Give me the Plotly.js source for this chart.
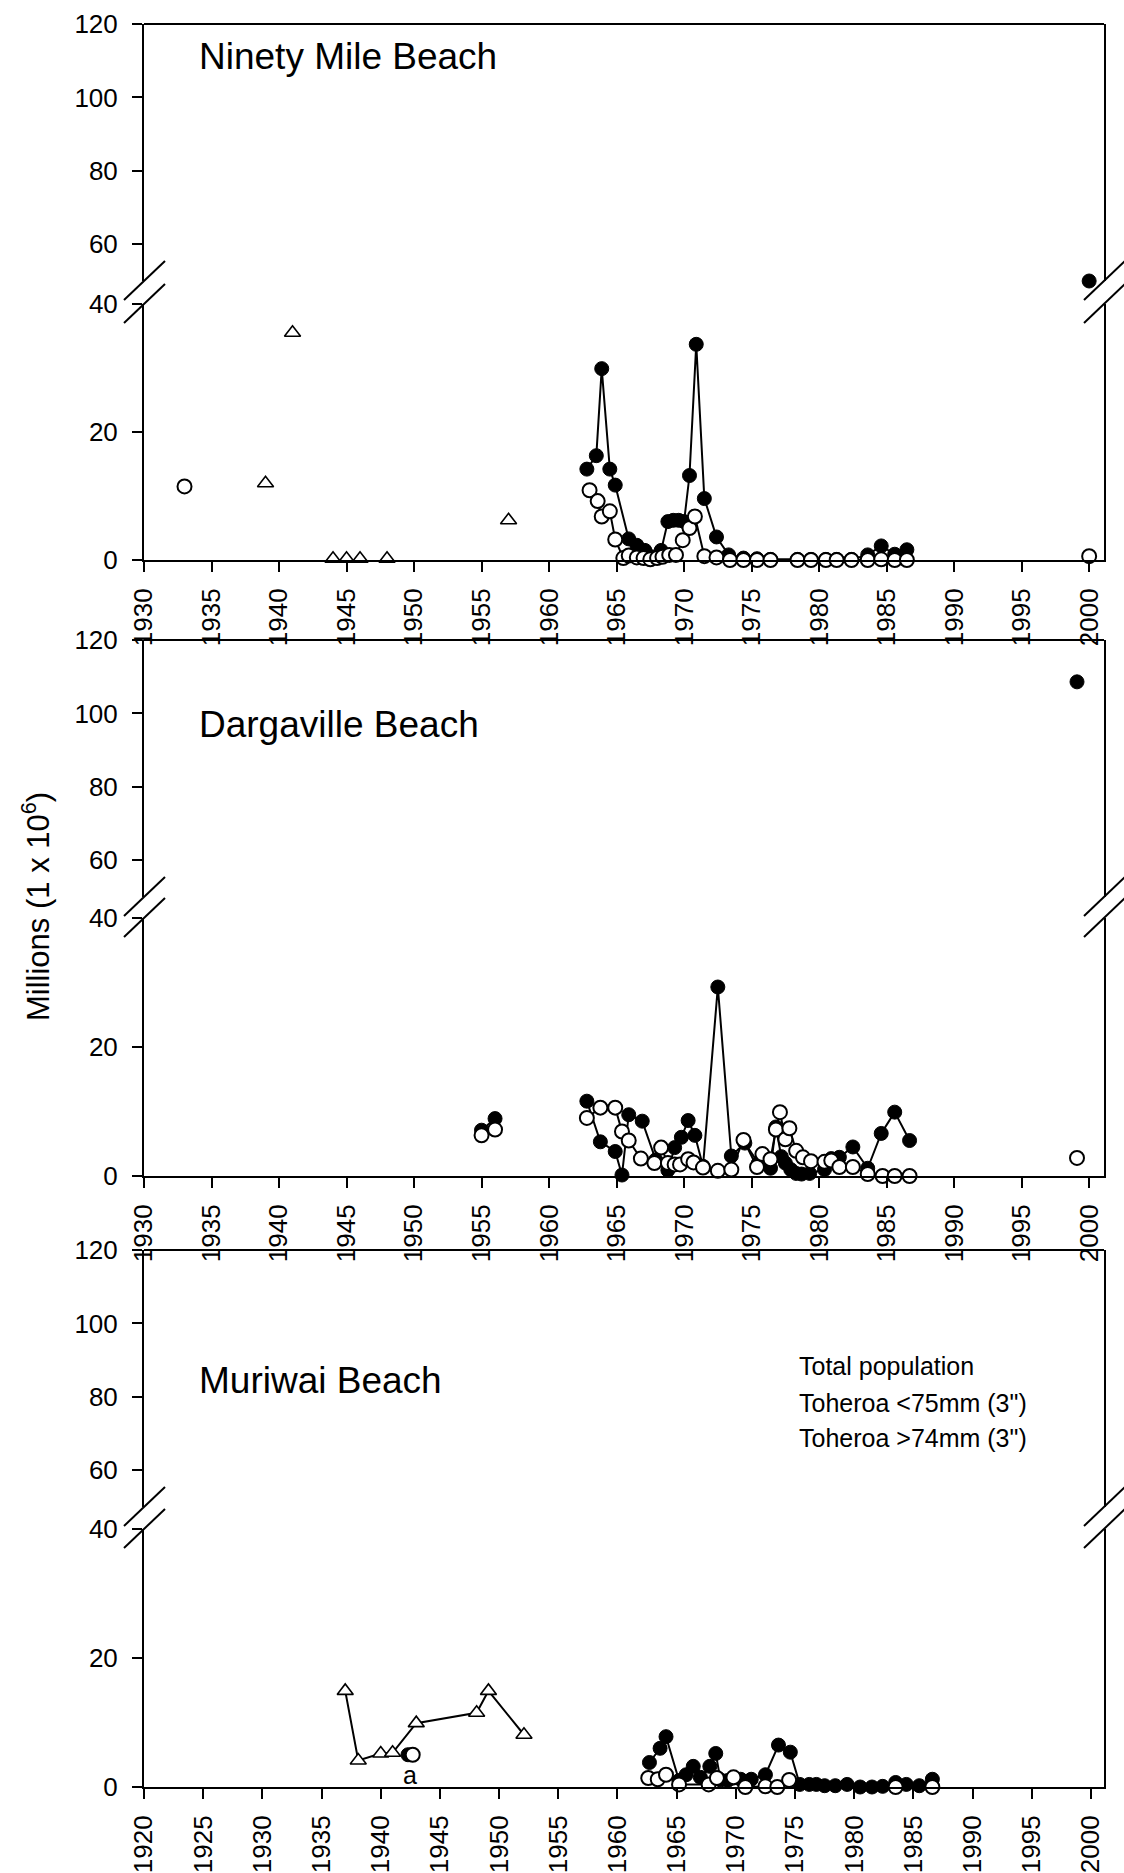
<!DOCTYPE html>
<html>
<head>
<meta charset="utf-8">
<script src="https://cdn.plot.ly/plotly-3.0.1.min.js"></script>
<style>
  html, body { margin: 0; padding: 0; background: #fff; }
  #chart { width: 1124px; height: 1873px; }
</style>
</head>
<body>
<div id="chart"></div>
<script>
// ---------------- DATA (millions of toheroa) ----------------
// Ninety Mile Beach
const ninetyTotalYears = [1939, 1941, 1944, 1945, 1946, 1948, 1957];
const ninetyTotalVals  = [12, 35.5, 0.2, 0.2, 0.2, 0.2, 6.2];
const ninetySmallYears = [1962.8, 1963.5, 1963.9, 1964.5, 1964.9, 1965.9, 1966.5, 1967.1, 1967.6, 1968.3, 1968.8, 1969.2, 1969.6, 1970.0, 1970.4, 1970.9, 1971.5, 1972.4, 1973.3, 1974.4, 1975.4, 1976.4, 1978.4, 1979.4, 1980.5, 1981.3, 1982.4, 1983.6, 1984.6, 1985.6, 1986.5, null, 2000];
const ninetySmallVals  = [14.2, 16.3, 29.9, 14.2, 11.7, 3.3, 2.3, 1.5, 0.5, 1.5, 6.0, 6.2, 6.2, 6.0, 13.2, 33.7, 9.6, 3.6, 0.8, 0.3, 0.2, 0.1, 0.1, 0.1, 0.1, 0.1, 0.1, 0.8, 2.2, 0.9, 1.6, null, 50];
const ninetyLargeYears = [1933.0, null, 1963.0, 1963.6, 1963.9, 1964.5, 1964.9, 1965.5, 1965.9, 1966.5, 1967.0, 1967.5, 1968.0, 1968.4, 1968.9, 1969.4, 1969.9, 1970.4, 1970.8, 1971.5, 1972.4, 1973.4, 1974.4, 1975.4, 1976.4, 1978.4, 1979.4, 1980.5, 1981.3, 1982.4, 1983.6, 1984.6, 1985.6, 1986.5, null, 2000];
const ninetyLargeVals  = [11.5, null, 10.9, 9.2, 6.8, 7.6, 3.2, 0.3, 0.7, 0.4, 0.3, 0.1, 0.3, 0.5, 0.8, 0.8, 3.1, 5.0, 6.8, 0.6, 0.4, 0, 0, 0, 0, 0, 0, 0, 0, 0, 0, 0.1, 0, 0, null, 0.6];

// Dargaville Beach
const dargSmallYears = [1955.0, 1956.0, null, 1962.8, 1963.8, 1964.9, 1965.4, 1965.9, 1966.9, 1967.9, 1968.8, 1969.3, 1969.8, 1970.3, 1970.8, 1971.4, 1972.5, 1973.5, 1974.5, 1975.5, 1976.4, 1976.8, 1977.2, 1977.5, 1977.9, 1978.3, 1978.7, 1979.3, 1980.4, 1980.9, 1981.5, 1982.5, 1983.6, 1984.6, 1985.6, 1986.7, null, 1999.1];
const dargSmallVals  = [7.1, 8.9, null, 11.6, 5.3, 3.8, 0.15, 9.5, 8.5, 2.5, 0.9, 4.4, 6.0, 8.6, 6.3, 1.5, 29.3, 3.1, 5.1, 2.0, 1.2, 7.6, 3.0, 2.0, 1.0, 0.4, 0.3, 0.4, 1.0, 2.7, 2.9, 4.5, 1.2, 6.6, 9.9, 5.5, null, 108.6];
const dargLargeYears = [1955.0, 1956.0, null, 1962.8, 1963.8, 1964.9, 1965.4, 1965.9, 1966.8, 1967.8, 1968.3, 1968.8, 1969.3, 1969.7, 1970.3, 1970.7, 1971.4, 1972.5, 1973.5, 1974.4, 1975.4, 1975.8, 1976.4, 1976.8, 1977.1, 1977.5, 1977.8, 1978.3, 1978.8, 1979.4, 1980.4, 1980.9, 1981.5, 1982.5, 1983.6, 1984.7, 1985.6, 1986.7, null, 1999.1];
const dargLargeVals  = [6.3, 7.2, null, 9.0, 10.6, 10.6, 6.9, 5.5, 2.7, 2.0, 4.4, 2.0, 1.8, 1.8, 2.6, 2.1, 1.3, 0.8, 1.0, 5.6, 1.4, 3.4, 2.6, 7.2, 9.9, 5.7, 7.4, 3.9, 2.9, 2.3, 2.2, 2.4, 1.4, 1.4, 0.3, 0, 0, 0, null, 2.8];

// Muriwai Beach
const muriTotalYears = [1937.0, 1938.1, 1940.0, 1941.0, 1943.0, 1948.1, 1949.1, 1952.1];
const muriTotalVals  = [14.9, 4.1, 5.2, 5.3, 9.9, 11.5, 14.9, 8.1];
const muriSmallYears = [1942.3, null, 1962.7, 1963.6, 1964.1, 1965.2, 1965.8, 1966.4, 1967.0, 1967.8, 1968.3, 1968.7, 1969.3, 1969.8, 1970.4, 1970.9, 1971.3, 1972.5, 1973.6, 1974.6, 1975.4, 1976.2, 1976.8, 1977.5, 1978.4, 1979.4, 1980.5, 1981.5, 1982.4, 1983.5, 1984.4, 1985.5, 1986.6];
const muriSmallVals  = [5.0, null, 3.8, 6.0, 7.8, 1.0, 1.9, 3.2, 1.5, 3.2, 5.2, 1.1, 1.0, 1.4, 1.2, 0.8, 1.2, 1.9, 6.5, 5.4, 0.4, 0.4, 0.4, 0.2, 0.2, 0.4, 0, 0, 0.1, 0.7, 0.4, 0.2, 1.2];
const muriLargeYears = [1942.7, null, 1962.6, 1963.4, 1964.1, 1965.2, 1967.7, 1968.4, 1969.8, 1970.8, 1972.5, 1973.5, 1974.5, 1983.5, 1986.6];
const muriLargeVals  = [5.0, null, 1.4, 1.2, 1.9, 0.4, 0.4, 1.4, 1.5, 0, 0.1, 0, 1.1, 0, 0];

// Labels
const panelNames = ['Ninety Mile Beach', 'Dargaville Beach', 'Muriwai Beach'];
const legendLabels = ['Total population', 'Toheroa <75mm (3")', 'Toheroa >74mm (3")'];
const yTitle = 'Millions (1 x 10<sup>6</sup>)';
const lowerTicks = [0, 20, 40];
const upperTicks = [60, 80, 100, 120];

// ---------------- LAYOUT HELPERS ----------------
const W = 1124, H = 1873;
const FONT = 'Liberation Sans, Arial, Helvetica, sans-serif';
const PX = v => v / W;
const PY = v => 1 - v / H;
const AX_L = 144, AX_R = 1104;
const boxes = [
  {upTop: 24,   upBot: 281,  loTop: 304,  loBot: 560,  xr: [1930, 2001.1]},
  {upTop: 640,  upBot: 897,  loTop: 918,  loBot: 1176, xr: [1930, 2001.1]},
  {upTop: 1250, upBot: 1507, loTop: 1529, loBot: 1787, xr: [1920, 2001.1]}
];
const BREAK = 40;

const filledStyle = {mode: 'lines+markers', line: {color: '#000', width: 2},
  marker: {symbol: 'circle', size: 14, color: '#000', line: {color: '#000', width: 1}}};
const openStyle = {mode: 'lines+markers', line: {color: '#000', width: 2},
  marker: {symbol: 'circle', size: 14, color: '#fff', line: {color: '#000', width: 2}}};
const triStyle = {line: {color: '#000', width: 2},
  marker: {symbol: 'triangle-up', size: 14, color: '#fff', line: {color: '#000', width: 1.6}}};

const traces = [];
function addSeries(xs, ys, axes, style, name, mode) {
  const lo = ys.map(v => (v === null ? null : (v <= BREAK ? v : null)));
  const up = ys.map(v => (v === null ? null : (v > BREAK ? v : null)));
  const base = Object.assign({}, style, {name: name, showlegend: false, connectgaps: false,
    cliponaxis: false, hoverinfo: 'x+y'});
  if (mode) base.mode = mode;
  traces.push(Object.assign({}, base, {x: xs, y: lo, xaxis: axes.x, yaxis: axes.lo}));
  // upper segment of the broken axis (always added so the segment is drawn)
  traces.push(Object.assign({}, base, {x: xs, y: up, xaxis: axes.x, yaxis: axes.up}));
}
const axesP = [
  {x: 'x',  lo: 'y',  up: 'y2'},
  {x: 'x2', lo: 'y3', up: 'y4'},
  {x: 'x3', lo: 'y5', up: 'y6'}
];

// Ninety Mile
addSeries(ninetySmallYears, ninetySmallVals, axesP[0], filledStyle, legendLabels[1]);
addSeries(ninetyLargeYears, ninetyLargeVals, axesP[0], openStyle, legendLabels[2]);
addSeries(ninetyTotalYears, ninetyTotalVals, axesP[0], triStyle, legendLabels[0], 'markers');
// Dargaville
addSeries(dargSmallYears, dargSmallVals, axesP[1], filledStyle, legendLabels[1]);
addSeries(dargLargeYears, dargLargeVals, axesP[1], openStyle, legendLabels[2]);
// Muriwai
addSeries(muriTotalYears, muriTotalVals, axesP[2], triStyle, legendLabels[0], 'lines+markers');
addSeries(muriSmallYears, muriSmallVals, axesP[2], filledStyle, legendLabels[1]);
addSeries(muriLargeYears, muriLargeVals, axesP[2], openStyle, legendLabels[2]);

const tickFont = {family: FONT, size: 26, color: '#000'};
const layout = {
  width: W, height: H,
  margin: {l: 0, r: 0, t: 0, b: 0, pad: 0},
  paper_bgcolor: '#fff', plot_bgcolor: 'rgba(0,0,0,0)',
  font: {family: FONT, color: '#000'},
  showlegend: false,
  shapes: [], annotations: []
};

boxes.forEach((b, i) => {
  const xName = i === 0 ? 'xaxis' : 'xaxis' + (i + 1);
  const loName = i === 0 ? 'yaxis' : 'yaxis' + (2 * i + 1);
  const upName = 'yaxis' + (2 * i + 2);
  const a = axesP[i];
  layout[xName] = {
    domain: [PX(AX_L), PX(AX_R)], anchor: a.lo, range: b.xr,
    tickmode: 'linear', tick0: b.xr[0], dtick: 5, tickangle: -90,
    ticks: 'outside', ticklen: 10, tickwidth: 2, tickcolor: '#000',
    ticklabelstandoff: 6,
    showline: true, linewidth: 2, linecolor: '#000', mirror: false,
    showgrid: false, zeroline: false, tickfont: tickFont, fixedrange: true
  };
  layout[loName] = {
    domain: [PY(b.loBot), PY(b.loTop)], anchor: a.x, range: [0, BREAK],
    tickmode: 'array', tickvals: lowerTicks, ticktext: lowerTicks.map(String),
    ticks: 'outside', ticklen: 10, tickwidth: 2, tickcolor: '#000',
    ticklabelstandoff: 9,
    showline: true, linewidth: 2, linecolor: '#000', mirror: true,
    showgrid: false, zeroline: false, tickfont: tickFont, fixedrange: true
  };
  layout[upName] = {
    domain: [PY(b.upBot), PY(b.upTop)], anchor: a.x, range: [50, 120],
    tickmode: 'array', tickvals: upperTicks, ticktext: upperTicks.map(String),
    ticks: 'outside', ticklen: 10, tickwidth: 2, tickcolor: '#000',
    ticklabelstandoff: 9,
    showline: true, linewidth: 2, linecolor: '#000', mirror: true,
    showgrid: false, zeroline: false, tickfont: tickFont, fixedrange: true
  };
  // top border
  layout.shapes.push({type: 'line', xref: 'paper', yref: 'paper',
    x0: PX(AX_L), x1: PX(AX_R), y0: PY(b.upTop), y1: PY(b.upTop),
    line: {color: '#000', width: 2}});
  // axis break marks on both sides
  [AX_L, AX_R].forEach(ax => {
    [b.upBot, b.loTop].forEach(yc => {
      layout.shapes.push({type: 'line', xref: 'paper', yref: 'paper',
        x0: PX(ax - 20), y0: PY(yc + 19), x1: PX(ax + 21), y1: PY(yc - 20),
        line: {color: '#000', width: 2}});
    });
  });
  // panel name
  layout.annotations.push({xref: 'paper', yref: 'paper', x: PX(197),
    y: PY(b.upTop + (i === 0 ? 33 : (i === 1 ? 85 : 130))),
    xanchor: 'left', yanchor: 'middle', showarrow: false, text: panelNames[i],
    font: {family: FONT, size: 37, color: '#000'}});
});

// y-axis title
layout.annotations.push({xref: 'paper', yref: 'paper', x: PX(36), y: PY(907),
  xanchor: 'center', yanchor: 'middle', textangle: -90, showarrow: false,
  text: yTitle, font: {family: FONT, size: 31, color: '#000'}});

// legend text (symbols absent in original)
[1366, 1403, 1438].forEach((yy, k) => {
  layout.annotations.push({xref: 'paper', yref: 'paper', x: PX(797), y: PY(yy),
    xanchor: 'left', yanchor: 'middle', showarrow: false, text: legendLabels[k],
    font: {family: FONT, size: 25, color: '#000'}});
});

// "a" note under the 1942 Muriwai point
layout.annotations.push({xref: 'x3', yref: 'y5', x: muriSmallYears[0] + 0.2, y: muriSmallVals[0],
  yshift: -20, showarrow: false, text: 'a', font: {family: FONT, size: 25, color: '#000'}});

Plotly.newPlot('chart', traces, layout, {staticPlot: true, displayModeBar: false});
</script>
</body>
</html>
